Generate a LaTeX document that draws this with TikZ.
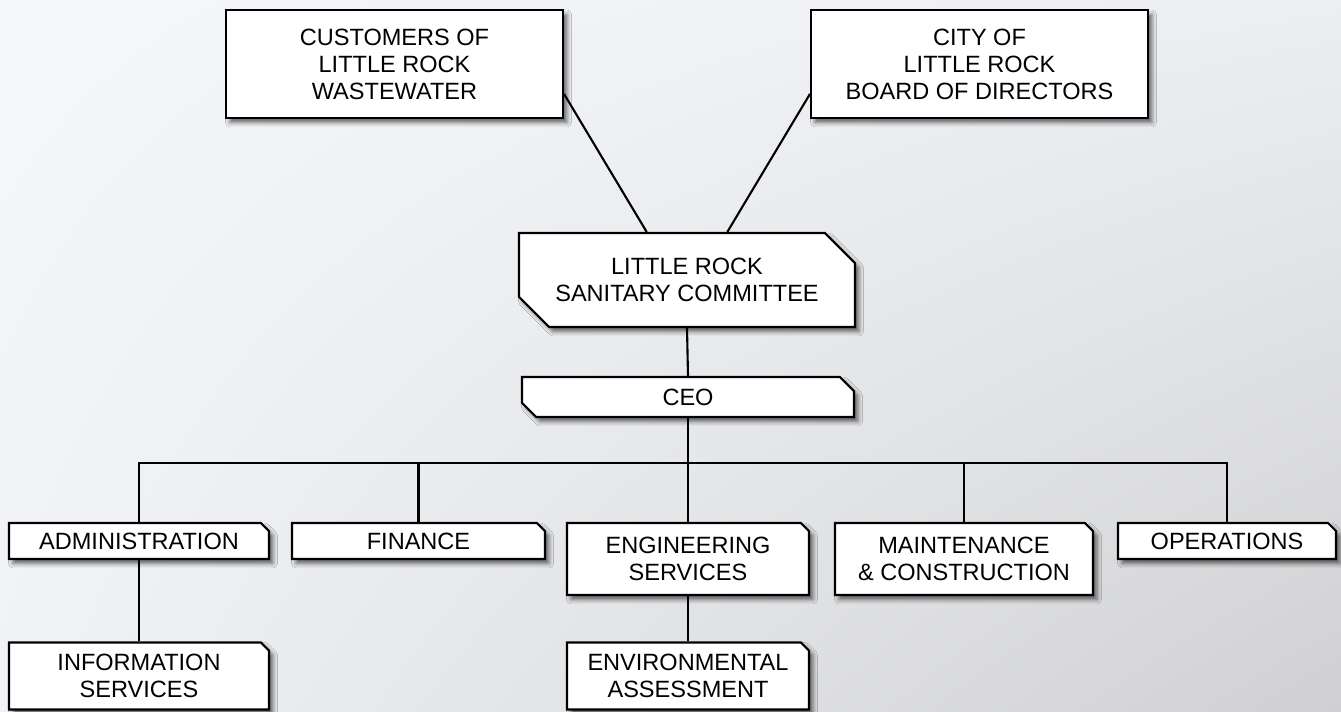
\documentclass[tikz,border=0pt]{standalone}
\usepackage{fontspec}
\setmainfont{Liberation Sans}
\usetikzlibrary{shapes.misc,shadows.blur,shadings}

\definecolor{paper}{RGB}{245,247,250}
\definecolor{paperR}{RGB}{236,238,241}
\definecolor{paperL}{RGB}{240,242,245}
\definecolor{paperD}{RGB}{208,208,210}

\begin{document}
\begin{tikzpicture}[x=0.02cm,y=0.02cm]
\def\xmax{1341};
\def\ymax{711};

% Page background
\useasboundingbox (0,0) rectangle (\xmax,\ymax);
\shade[upper left=paper, upper right=paperR, lower left=paperL, lower right=paperD]
  (0,0) rectangle (\xmax,\ymax);

% Styles for the boxes and the wires between them
\tikzstyle{unit}=[draw=black, line width=1.2pt, fill=white, inner sep=0pt,
  align=center, font=\fontsize{13.4}{15.4}\selectfont,
  blur shadow={shadow xshift=0.08cm, shadow yshift=-0.09cm,
    shadow blur radius=0.09cm, shadow opacity=60}]
\tikzstyle{board}=[unit, rectangle]
\tikzstyle{snip}=[unit, chamfered rectangle,
  chamfered rectangle corners={north east,south west}]
\tikzstyle{dept}=[unit, chamfered rectangle,
  chamfered rectangle corners=north east,
  chamfered rectangle xsep=0.08cm, chamfered rectangle ysep=0.08cm]
\tikzstyle{wire}=[draw=black, line width=1.2pt]

% Top row: the two bodies the committee answers to
\node[board, minimum width=6.74cm, minimum height=2.16cm] (cust) at (394.5,647)
  {CUSTOMERS OF\\LITTLE ROCK\\WASTEWATER};
\node[board, minimum width=6.74cm, minimum height=2.16cm] (city) at (979.5,647)
  {CITY OF\\LITTLE ROCK\\BOARD OF DIRECTORS};

% Committee and CEO
\node[snip, chamfered rectangle xsep=0.3cm, chamfered rectangle ysep=0.3cm,
  minimum width=6.72cm, minimum height=1.88cm] (lrsc) at (687,431)
  {LITTLE ROCK\\SANITARY COMMITTEE};
\node[snip, chamfered rectangle xsep=0.14cm, chamfered rectangle ysep=0.14cm,
  minimum width=6.64cm, minimum height=0.8cm] (ceo) at (688,314) {CEO};

% Departments
\node[dept, minimum width=5.2cm, minimum height=0.72cm] (admin) at (139,170) {ADMINISTRATION};
\node[dept, minimum width=5.06cm, minimum height=0.72cm] (fin) at (418.5,170) {FINANCE};
\node[dept, minimum width=4.84cm, minimum height=1.44cm] (eng) at (688,152) {ENGINEERING\\SERVICES};
\node[dept, minimum width=5.16cm, minimum height=1.44cm] (maint) at (964,152) {MAINTENANCE\\\& CONSTRUCTION};
\node[dept, minimum width=4.36cm, minimum height=0.72cm] (ops) at (1227,170) {OPERATIONS};

% Sub-units
\node[dept, minimum width=5.2cm, minimum height=1.34cm] (info) at (139,35) {INFORMATION\\SERVICES};
\node[dept, minimum width=4.84cm, minimum height=1.34cm] (env) at (688,35) {ENVIRONMENTAL\\ASSESSMENT};

% Wires
\coordinate (bus) at (688,248);
\draw[wire] (cust.-10) -- (lrsc.130);
\draw[wire] (city.190) -- (lrsc.50);
\draw[wire] (lrsc.south) -- (ceo.north);
\draw[wire] (ceo.south) -- (bus);
\draw[wire] (admin.north) |- (bus) -| (ops.north);
\foreach \n in {fin,eng,maint}
  \draw[wire] (\n.north) -- (\n.north |- bus);
\draw[wire] (admin.south) -- (info.north);
\draw[wire] (eng.south) -- (env.north);

\end{tikzpicture}
\end{document}
